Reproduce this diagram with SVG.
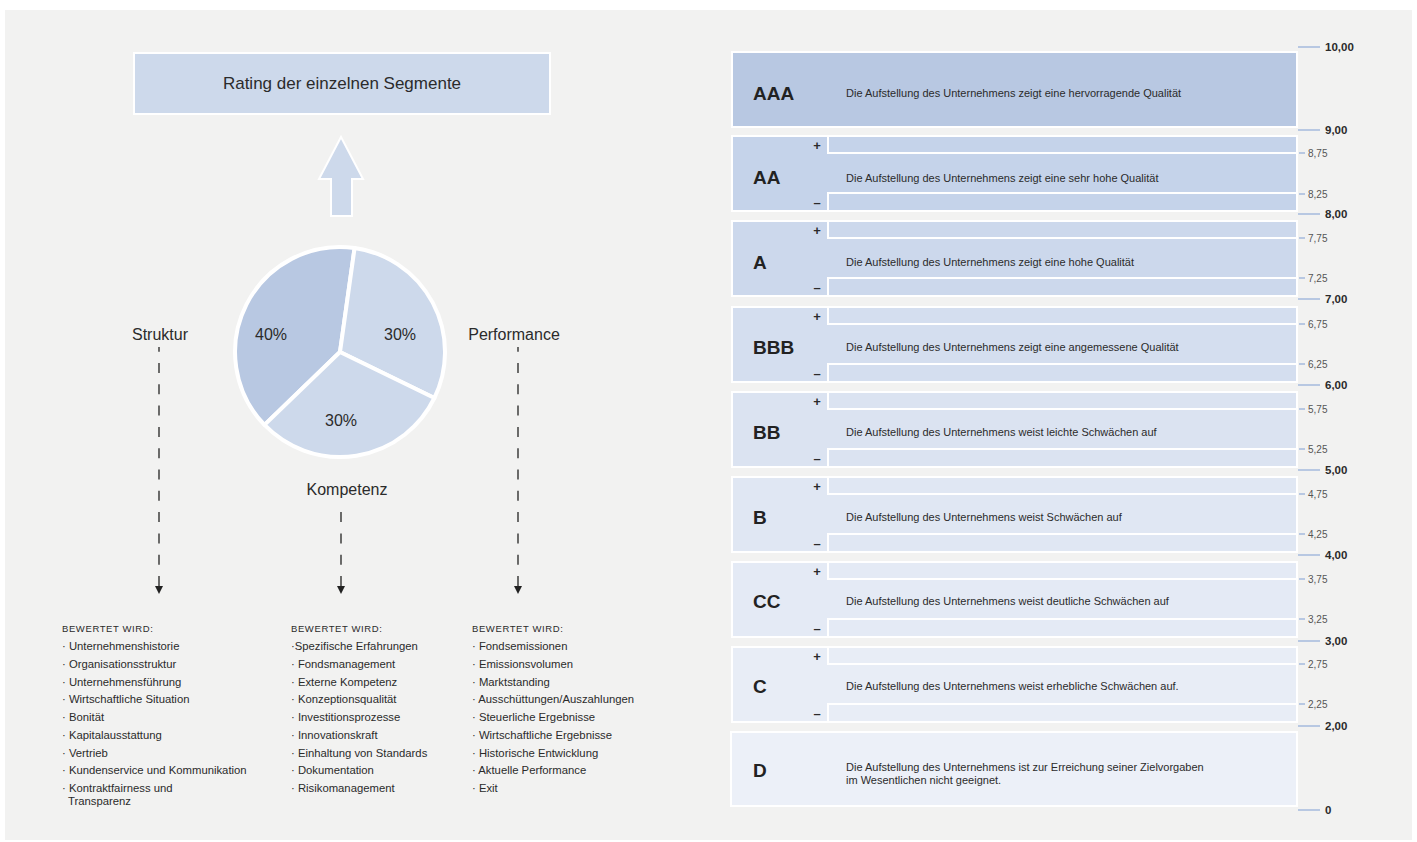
<svg xmlns="http://www.w3.org/2000/svg" width="1417" height="842" viewBox="0 0 1417 842">
<defs>
<style>
text{font-family:"Liberation Sans",Arial,sans-serif;fill:#2b2b2b}
.lbl{font-size:16px;text-anchor:middle}
.ttl{font-size:17px;text-anchor:middle}
.pct{font-size:16px;text-anchor:middle}
.hd{font-size:9.5px;letter-spacing:0.6px}
.it{font-size:11.3px}
.rt{font-size:19px;font-weight:bold;fill:#222}
.ds{font-size:11px}
.pm{font-size:13px;font-weight:bold;text-anchor:middle}
.mj{font-size:11.5px;font-weight:bold}
.mn{font-size:10px;fill:#555}
.blk{stroke:#fff;stroke-width:2}
.sep{stroke:#fff;stroke-width:2;fill:none}
.tkM{stroke:#b8c8e2;stroke-width:2}
.tkm{stroke:#b8c8e2;stroke-width:2}
.dash{stroke:#222;stroke-width:1.3;stroke-dasharray:10 11.3;fill:none}
</style>
<marker id="ah" viewBox="0 0 10 10" refX="0" refY="5" markerWidth="8" markerHeight="8" markerUnits="userSpaceOnUse" orient="auto-start-reverse">
<path d="M0,0 L10,5 L0,10 Z" fill="#222"/>
</marker>
</defs>
<rect x="0" y="0" width="1417" height="842" fill="#ffffff"/>
<rect x="5" y="10" width="1407" height="830" fill="#f2f2f1"/>

<g id="title">
<rect x="134" y="53" width="416" height="61" fill="#cdd9eb" stroke="#fff" stroke-width="2"/>
<text x="342" y="89" class="ttl">Rating der einzelnen Segmente</text>
</g>
<g id="up-arrow">
<polygon points="341,137 363,179 352,179 352,216 331,216 331,179 319,179" fill="#cdd9eb" stroke="#fff" stroke-width="2"/>
</g>

<g id="pie">
<path d="M340,352 L264.5,424.9 A105,105 0 0 1 354.6,248 Z" fill="#b8c8e2" stroke="#fff" stroke-width="4" stroke-linejoin="round"/>
<path d="M340,352 L354.6,248 A105,105 0 0 1 434.4,398 Z" fill="#cdd9eb" stroke="#fff" stroke-width="4" stroke-linejoin="round"/>
<path d="M340,352 L434.4,398 A105,105 0 0 1 264.5,424.9 Z" fill="#cdd9eb" stroke="#fff" stroke-width="4" stroke-linejoin="round"/>
<text x="271" y="340" class="pct">40%</text>
<text x="400" y="340" class="pct">30%</text>
<text x="341" y="426" class="pct">30%</text>
</g>

<g id="struktur"><text x="160" y="340" class="lbl">Struktur</text></g>
<g id="performance"><text x="514" y="340" class="lbl">Performance</text></g>
<g id="kompetenz"><text x="347" y="495" class="lbl">Kompetenz</text></g>

<g id="connectors">
<path class="dash" d="M159,586 L159,347" marker-start="url(#ah)"/>
<path class="dash" d="M341,586 L341,512" marker-start="url(#ah)"/>
<path class="dash" d="M518,586 L518,347" marker-start="url(#ah)"/>
</g>

<g id="list-struktur">
<text x="62" y="632" class="hd">BEWERTET WIRD:</text>
<text x="62" y="650" class="it">· Unternehmenshistorie</text>
<text x="62" y="668" class="it">· Organisationsstruktur</text>
<text x="62" y="685.5" class="it">· Unternehmensführung</text>
<text x="62" y="703" class="it">· Wirtschaftliche Situation</text>
<text x="62" y="721" class="it">· Bonität</text>
<text x="62" y="739" class="it">· Kapitalausstattung</text>
<text x="62" y="756.5" class="it">· Vertrieb</text>
<text x="62" y="774" class="it">· Kundenservice und Kommunikation</text>
<text x="62" y="792" class="it">· Kontraktfairness und</text>
<text x="68" y="805" class="it">Transparenz</text>
</g>
<g id="list-kompetenz">
<text x="291" y="632" class="hd">BEWERTET WIRD:</text>
<text x="291" y="650" class="it">·Spezifische Erfahrungen</text>
<text x="291" y="668" class="it">· Fondsmanagement</text>
<text x="291" y="685.5" class="it">· Externe Kompetenz</text>
<text x="291" y="703" class="it">· Konzeptionsqualität</text>
<text x="291" y="721" class="it">· Investitionsprozesse</text>
<text x="291" y="739" class="it">· Innovationskraft</text>
<text x="291" y="756.5" class="it">· Einhaltung von Standards</text>
<text x="291" y="774" class="it">· Dokumentation</text>
<text x="291" y="792" class="it">· Risikomanagement</text>
</g>
<g id="list-performance">
<text x="472" y="632" class="hd">BEWERTET WIRD:</text>
<text x="472" y="650" class="it">· Fondsemissionen</text>
<text x="472" y="668" class="it">· Emissionsvolumen</text>
<text x="472" y="685.5" class="it">· Marktstanding</text>
<text x="472" y="703" class="it">· Ausschüttungen/Auszahlungen</text>
<text x="472" y="721" class="it">· Steuerliche Ergebnisse</text>
<text x="472" y="739" class="it">· Wirtschaftliche Ergebnisse</text>
<text x="472" y="756.5" class="it">· Historische Entwicklung</text>
<text x="472" y="774" class="it">· Aktuelle Performance</text>
<text x="472" y="792" class="it">· Exit</text>
</g>

<g id="rating-AAA">
<rect x="732" y="52" width="565" height="75" fill="#b8c8e2" class="blk"/>
<text x="753" y="100" class="rt">AAA</text>
<text x="846" y="97" class="ds">Die Aufstellung des Unternehmens zeigt eine hervorragende Qualität</text>
</g>
<g id="rating-AA">
<rect x="732" y="136" width="565" height="75" fill="#c5d3ea" class="blk"/>
<path class="sep" d="M828,136 V153 H1297 M828,211 V193 H1297"/>
<text x="817" y="150" class="pm">+</text>
<text x="817" y="207" class="pm">–</text>
<text x="753" y="184" class="rt">AA</text>
<text x="846" y="182" class="ds">Die Aufstellung des Unternehmens zeigt eine sehr hohe Qualität</text>
</g>
<g id="rating-A">
<rect x="732" y="221" width="565" height="75" fill="#ccd8ec" class="blk"/>
<path class="sep" d="M828,221 V238 H1297 M828,296 V278 H1297"/>
<text x="817" y="235" class="pm">+</text>
<text x="817" y="292" class="pm">–</text>
<text x="753" y="269" class="rt">A</text>
<text x="846" y="266" class="ds">Die Aufstellung des Unternehmens zeigt eine hohe Qualität</text>
</g>
<g id="rating-BBB">
<rect x="732" y="307" width="565" height="75" fill="#d4deef" class="blk"/>
<path class="sep" d="M828,307 V324 H1297 M828,382 V364 H1297"/>
<text x="817" y="321" class="pm">+</text>
<text x="817" y="378" class="pm">–</text>
<text x="753" y="354" class="rt">BBB</text>
<text x="846" y="351" class="ds">Die Aufstellung des Unternehmens zeigt eine angemessene Qualität</text>
</g>
<g id="rating-BB">
<rect x="732" y="392" width="565" height="75" fill="#dbe3f1" class="blk"/>
<path class="sep" d="M828,392 V409 H1297 M828,467 V449 H1297"/>
<text x="817" y="406" class="pm">+</text>
<text x="817" y="463" class="pm">–</text>
<text x="753" y="439" class="rt">BB</text>
<text x="846" y="436" class="ds">Die Aufstellung des Unternehmens weist leichte Schwächen auf</text>
</g>
<g id="rating-B">
<rect x="732" y="477" width="565" height="75" fill="#e0e7f3" class="blk"/>
<path class="sep" d="M828,477 V494 H1297 M828,552 V534 H1297"/>
<text x="817" y="491" class="pm">+</text>
<text x="817" y="548" class="pm">–</text>
<text x="753" y="524" class="rt">B</text>
<text x="846" y="521" class="ds">Die Aufstellung des Unternehmens weist Schwächen auf</text>
</g>
<g id="rating-CC">
<rect x="732" y="562" width="565" height="75" fill="#e4eaf5" class="blk"/>
<path class="sep" d="M828,562 V579 H1297 M828,637 V619 H1297"/>
<text x="817" y="576" class="pm">+</text>
<text x="817" y="633" class="pm">–</text>
<text x="753" y="608" class="rt">CC</text>
<text x="846" y="605" class="ds">Die Aufstellung des Unternehmens weist deutliche Schwächen auf</text>
</g>
<g id="rating-C">
<rect x="732" y="647" width="565" height="75" fill="#e8edf6" class="blk"/>
<path class="sep" d="M828,647 V664 H1297 M828,722 V704 H1297"/>
<text x="817" y="661" class="pm">+</text>
<text x="817" y="718" class="pm">–</text>
<text x="753" y="693" class="rt">C</text>
<text x="846" y="690" class="ds">Die Aufstellung des Unternehmens weist erhebliche Schwächen auf.</text>
</g>
<g id="rating-D">
<rect x="731" y="732" width="566" height="74" fill="#ecf0f8" class="blk"/>
<text x="753" y="777" class="rt">D</text>
<text x="846" y="771" class="ds">Die Aufstellung des Unternehmens ist zur Erreichung seiner Zielvorgaben</text>
<text x="846" y="784" class="ds">im Wesentlichen nicht geeignet.</text>
</g>

<g id="scale">
<path class="tkM" d="M1298,47 H1320 M1298,130 H1320 M1298,214 H1320 M1298,299 H1320 M1298,385 H1320 M1298,470 H1320 M1298,555 H1320 M1298,641 H1320 M1298,726 H1320 M1298,810 H1320"/>
<path class="tkm" d="M1299,153 H1305 M1299,194 H1305 M1299,238 H1305 M1299,278 H1305 M1299,324 H1305 M1299,364 H1305 M1299,409 H1305 M1299,449 H1305 M1299,494 H1305 M1299,534 H1305 M1299,579 H1305 M1299,619 H1305 M1299,664 H1305 M1299,704 H1305"/>
<text x="1325" y="51" class="mj">10,00</text>
<text x="1325" y="134" class="mj">9,00</text>
<text x="1325" y="218" class="mj">8,00</text>
<text x="1325" y="303" class="mj">7,00</text>
<text x="1325" y="389" class="mj">6,00</text>
<text x="1325" y="474" class="mj">5,00</text>
<text x="1325" y="559" class="mj">4,00</text>
<text x="1325" y="645" class="mj">3,00</text>
<text x="1325" y="730" class="mj">2,00</text>
<text x="1325" y="814" class="mj">0</text>
<text x="1308" y="157" class="mn">8,75</text>
<text x="1308" y="198" class="mn">8,25</text>
<text x="1308" y="242" class="mn">7,75</text>
<text x="1308" y="282" class="mn">7,25</text>
<text x="1308" y="328" class="mn">6,75</text>
<text x="1308" y="368" class="mn">6,25</text>
<text x="1308" y="413" class="mn">5,75</text>
<text x="1308" y="453" class="mn">5,25</text>
<text x="1308" y="498" class="mn">4,75</text>
<text x="1308" y="538" class="mn">4,25</text>
<text x="1308" y="583" class="mn">3,75</text>
<text x="1308" y="623" class="mn">3,25</text>
<text x="1308" y="668" class="mn">2,75</text>
<text x="1308" y="708" class="mn">2,25</text>
</g>
</svg>
